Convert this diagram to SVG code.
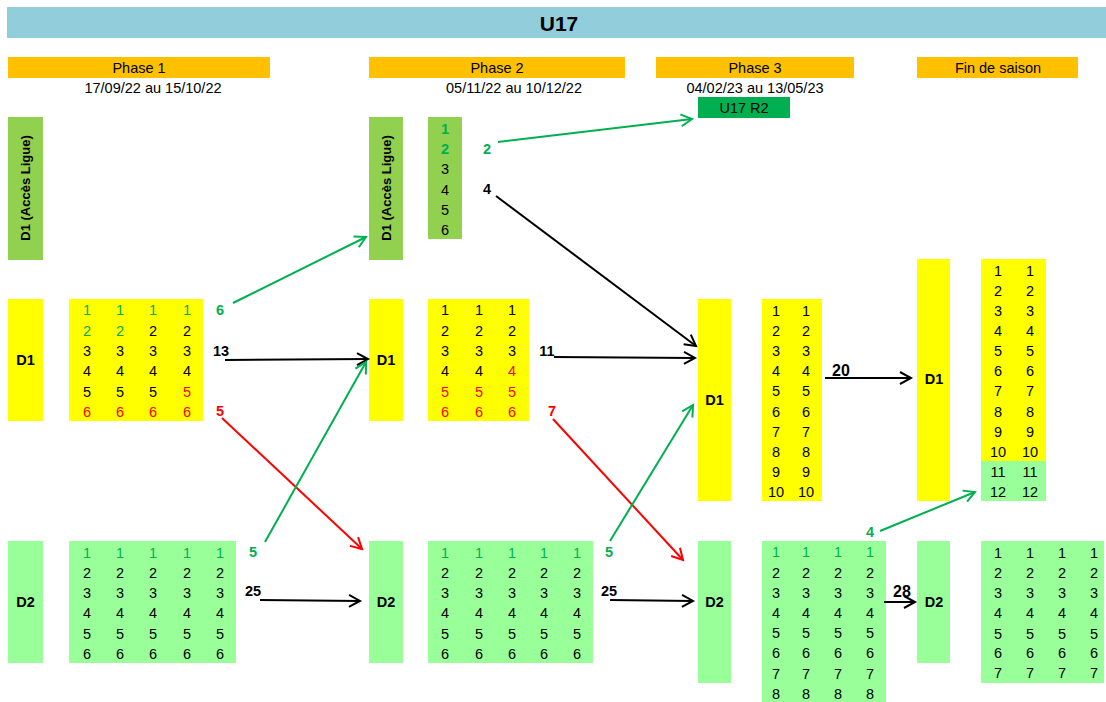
<svg xmlns="http://www.w3.org/2000/svg" width="1106" height="702" viewBox="0 0 1106 702">
<style>
text{font-family:"Liberation Sans",Arial,sans-serif;font-size:14.5px;text-anchor:middle;fill:#000}
.b{font-weight:bold}
.g{fill:#00B050}
.r{fill:#FF0000}
.yel{fill:#FFFF00}
.lg{fill:#99FF99}
.dg{fill:#92D050}
.ph{fill:#FFC000}
.ln{fill:none;stroke-width:2}
.k{stroke:#000}
.sg{stroke:#00B050}
.sr{stroke:#FF0000}
</style>
<defs>
<marker id="ak" markerUnits="userSpaceOnUse" markerWidth="16" markerHeight="16" refX="12" refY="7" orient="auto" viewBox="0 0 16 14"><path d="M1,1 L12,7 L1,13" fill="none" stroke="#000" stroke-width="2"/></marker>
<marker id="ag" markerUnits="userSpaceOnUse" markerWidth="16" markerHeight="16" refX="12" refY="7" orient="auto" viewBox="0 0 16 14"><path d="M1,1 L12,7 L1,13" fill="none" stroke="#00B050" stroke-width="2"/></marker>
<marker id="ar" markerUnits="userSpaceOnUse" markerWidth="16" markerHeight="16" refX="12" refY="7" orient="auto" viewBox="0 0 16 14"><path d="M1,1 L12,7 L1,13" fill="none" stroke="#FF0000" stroke-width="2"/></marker>
</defs>
<rect width="1106" height="702" fill="#fff"/>
<g id="title">
<rect x="7" y="7" width="1099" height="31" fill="#92CDDC"/>
<text x="559" y="31" class="b" style="font-size:21px">U17</text>
</g>
<g id="phases">
<rect x="8" y="57" width="262" height="21" class="ph"/>
<text x="139" y="73">Phase 1</text>
<text x="153" y="93">17/09/22 au 15/10/22</text>
<rect x="369" y="57" width="256" height="21" class="ph"/>
<text x="497" y="73">Phase 2</text>
<text x="514" y="93">05/11/22 au 10/12/22</text>
<rect x="656" y="57" width="198" height="21" class="ph"/>
<text x="755" y="73">Phase 3</text>
<text x="755" y="93">04/02/23 au 13/05/23</text>
<rect x="917" y="57" width="161" height="21" class="ph"/>
<text x="998" y="73">Fin de saison</text>
</g>
<g id="u17r2">
<rect x="698" y="97" width="92" height="21" fill="#00B050"/>
<text x="744" y="113">U17 R2</text>
</g>
<g id="p1-acces">
<rect x="8" y="117" width="35" height="143" class="dg"/>
<text transform="translate(30,188) rotate(-90)" class="b" style="font-size:13px">D1 (Accès Ligue)</text>
</g>
<g id="p1-d1">
<rect x="8" y="299" width="35" height="122" class="yel"/>
<text x="25.5" y="365" class="b">D1</text>
<rect x="69" y="299" width="134" height="122" class="yel"/>
<text x="87" y="315" class="g">1</text><text x="120" y="315" class="g">1</text><text x="153" y="315" class="g">1</text><text x="187" y="315" class="g">1</text>
<text x="87" y="336" class="g">2</text><text x="120" y="336" class="g">2</text><text x="153" y="336">2</text><text x="187" y="336">2</text>
<text x="87" y="356">3</text><text x="120" y="356">3</text><text x="153" y="356">3</text><text x="187" y="356">3</text>
<text x="87" y="376">4</text><text x="120" y="376">4</text><text x="153" y="376">4</text><text x="187" y="376">4</text>
<text x="87" y="397">5</text><text x="120" y="397">5</text><text x="153" y="397">5</text><text x="187" y="397" class="r">5</text>
<text x="87" y="417" class="r">6</text><text x="120" y="417" class="r">6</text><text x="153" y="417" class="r">6</text><text x="187" y="417" class="r">6</text>
</g>
<g id="p1-d2">
<rect x="8" y="541" width="35" height="122" class="lg"/>
<text x="25.5" y="607" class="b">D2</text>
<rect x="69" y="541" width="167" height="122" class="lg"/>
<text x="87" y="558" class="g">1</text><text x="120" y="558" class="g">1</text><text x="153" y="558" class="g">1</text><text x="187" y="558" class="g">1</text><text x="220" y="558" class="g">1</text>
<text x="87" y="578">2</text><text x="120" y="578">2</text><text x="153" y="578">2</text><text x="187" y="578">2</text><text x="220" y="578">2</text>
<text x="87" y="598">3</text><text x="120" y="598">3</text><text x="153" y="598">3</text><text x="187" y="598">3</text><text x="220" y="598">3</text>
<text x="87" y="618">4</text><text x="120" y="618">4</text><text x="153" y="618">4</text><text x="187" y="618">4</text><text x="220" y="618">4</text>
<text x="87" y="639">5</text><text x="120" y="639">5</text><text x="153" y="639">5</text><text x="187" y="639">5</text><text x="220" y="639">5</text>
<text x="87" y="659">6</text><text x="120" y="659">6</text><text x="153" y="659">6</text><text x="187" y="659">6</text><text x="220" y="659">6</text>
</g>
<g id="p2-acces">
<rect x="369" y="117" width="34" height="143" class="dg"/>
<text transform="translate(391,188) rotate(-90)" class="b" style="font-size:13px">D1 (Accès Ligue)</text>
<rect x="428" y="117" width="34" height="122" class="dg"/>
<text x="445" y="134" class="g b">1</text>
<text x="445" y="154" class="g b">2</text>
<text x="445" y="174">3</text>
<text x="445" y="195">4</text>
<text x="445" y="215">5</text>
<text x="445" y="235">6</text>
</g>
<g id="p2-d1">
<rect x="369" y="299" width="34" height="122" class="yel"/>
<text x="386" y="365" class="b">D1</text>
<rect x="428" y="299" width="101" height="122" class="yel"/>
<text x="445" y="315">1</text><text x="479" y="315">1</text><text x="512" y="315">1</text>
<text x="445" y="336">2</text><text x="479" y="336">2</text><text x="512" y="336">2</text>
<text x="445" y="356">3</text><text x="479" y="356">3</text><text x="512" y="356">3</text>
<text x="445" y="376">4</text><text x="479" y="376">4</text><text x="512" y="376" class="r">4</text>
<text x="445" y="397" class="r">5</text><text x="479" y="397" class="r">5</text><text x="512" y="397" class="r">5</text>
<text x="445" y="417" class="r">6</text><text x="479" y="417" class="r">6</text><text x="512" y="417" class="r">6</text>
</g>
<g id="p2-d2">
<rect x="369" y="541" width="34" height="122" class="lg"/>
<text x="386" y="607" class="b">D2</text>
<rect x="428" y="541" width="165" height="122" class="lg"/>
<text x="445" y="558" class="g">1</text><text x="479" y="558" class="g">1</text><text x="512" y="558" class="g">1</text><text x="544" y="558" class="g">1</text><text x="577" y="558" class="g">1</text>
<text x="445" y="578">2</text><text x="479" y="578">2</text><text x="512" y="578">2</text><text x="544" y="578">2</text><text x="577" y="578">2</text>
<text x="445" y="598">3</text><text x="479" y="598">3</text><text x="512" y="598">3</text><text x="544" y="598">3</text><text x="577" y="598">3</text>
<text x="445" y="618">4</text><text x="479" y="618">4</text><text x="512" y="618">4</text><text x="544" y="618">4</text><text x="577" y="618">4</text>
<text x="445" y="639">5</text><text x="479" y="639">5</text><text x="512" y="639">5</text><text x="544" y="639">5</text><text x="577" y="639">5</text>
<text x="445" y="659">6</text><text x="479" y="659">6</text><text x="512" y="659">6</text><text x="544" y="659">6</text><text x="577" y="659">6</text>
</g>
<g id="p3-d1">
<rect x="698" y="299" width="33" height="202" class="yel"/>
<text x="714.5" y="405" class="b">D1</text>
<rect x="762" y="299" width="60" height="202" class="yel"/>
<text x="776" y="316">1</text><text x="806" y="316">1</text>
<text x="776" y="336">2</text><text x="806" y="336">2</text>
<text x="776" y="356">3</text><text x="806" y="356">3</text>
<text x="776" y="376">4</text><text x="806" y="376">4</text>
<text x="776" y="396">5</text><text x="806" y="396">5</text>
<text x="776" y="417">6</text><text x="806" y="417">6</text>
<text x="776" y="437">7</text><text x="806" y="437">7</text>
<text x="776" y="457">8</text><text x="806" y="457">8</text>
<text x="776" y="477">9</text><text x="806" y="477">9</text>
<text x="776" y="497">10</text><text x="806" y="497">10</text>
</g>
<g id="p3-d2">
<rect x="698" y="541" width="33" height="142" class="lg"/>
<text x="714.5" y="607" class="b">D2</text>
<rect x="762" y="541" width="124" height="161" class="lg"/>
<text x="776" y="557" class="g">1</text><text x="806" y="557" class="g">1</text><text x="838" y="557" class="g">1</text><text x="870" y="557" class="g">1</text>
<text x="776" y="578">2</text><text x="806" y="578">2</text><text x="838" y="578">2</text><text x="870" y="578">2</text>
<text x="776" y="598">3</text><text x="806" y="598">3</text><text x="838" y="598">3</text><text x="870" y="598">3</text>
<text x="776" y="618">4</text><text x="806" y="618">4</text><text x="838" y="618">4</text><text x="870" y="618">4</text>
<text x="776" y="638">5</text><text x="806" y="638">5</text><text x="838" y="638">5</text><text x="870" y="638">5</text>
<text x="776" y="658">6</text><text x="806" y="658">6</text><text x="838" y="658">6</text><text x="870" y="658">6</text>
<text x="776" y="679">7</text><text x="806" y="679">7</text><text x="838" y="679">7</text><text x="870" y="679">7</text>
<text x="776" y="699">8</text><text x="806" y="699">8</text><text x="838" y="699">8</text><text x="870" y="699">8</text>
</g>
<g id="fin-d1">
<rect x="917" y="259" width="33" height="242" class="yel"/>
<text x="934" y="384" class="b">D1</text>
<rect x="981" y="259" width="65" height="202" class="yel"/>
<rect x="981" y="461" width="65" height="40" class="lg"/>
<text x="998" y="276">1</text><text x="1030" y="276">1</text>
<text x="998" y="296">2</text><text x="1030" y="296">2</text>
<text x="998" y="316">3</text><text x="1030" y="316">3</text>
<text x="998" y="336">4</text><text x="1030" y="336">4</text>
<text x="998" y="356">5</text><text x="1030" y="356">5</text>
<text x="998" y="376">6</text><text x="1030" y="376">6</text>
<text x="998" y="396">7</text><text x="1030" y="396">7</text>
<text x="998" y="417">8</text><text x="1030" y="417">8</text>
<text x="998" y="437">9</text><text x="1030" y="437">9</text>
<text x="998" y="457">10</text><text x="1030" y="457">10</text>
<text x="998" y="477">11</text><text x="1030" y="477">11</text>
<text x="998" y="497">12</text><text x="1030" y="497">12</text>
</g>
<g id="fin-d2">
<rect x="917" y="541" width="33" height="122" class="lg"/>
<text x="934" y="607" class="b">D2</text>
<rect x="981" y="541" width="123" height="142" class="lg"/>
<text x="998" y="558">1</text><text x="1030" y="558">1</text><text x="1062" y="558">1</text><text x="1094" y="558">1</text>
<text x="998" y="578">2</text><text x="1030" y="578">2</text><text x="1062" y="578">2</text><text x="1094" y="578">2</text>
<text x="998" y="598">3</text><text x="1030" y="598">3</text><text x="1062" y="598">3</text><text x="1094" y="598">3</text>
<text x="998" y="618">4</text><text x="1030" y="618">4</text><text x="1062" y="618">4</text><text x="1094" y="618">4</text>
<text x="998" y="639">5</text><text x="1030" y="639">5</text><text x="1062" y="639">5</text><text x="1094" y="639">5</text>
<text x="998" y="658">6</text><text x="1030" y="658">6</text><text x="1062" y="658">6</text><text x="1094" y="658">6</text>
<text x="998" y="678">7</text><text x="1030" y="678">7</text><text x="1062" y="678">7</text><text x="1094" y="678">7</text>
</g>
<g id="connectors">
<line x1="233" y1="303" x2="366" y2="237" class="ln sg" marker-end="url(#ag)"/>
<line x1="225" y1="360" x2="368" y2="359" class="ln k" marker-end="url(#ak)"/>
<line x1="222" y1="418" x2="362" y2="549" class="ln sr" marker-end="url(#ar)"/>
<line x1="265" y1="542" x2="366" y2="362" class="ln sg" marker-end="url(#ag)"/>
<line x1="260" y1="600" x2="360" y2="601" class="ln k" marker-end="url(#ak)"/>
<line x1="498" y1="142" x2="692" y2="119" class="ln sg" marker-end="url(#ag)"/>
<line x1="496" y1="196" x2="696" y2="346" class="ln k" marker-end="url(#ak)"/>
<line x1="554" y1="357" x2="695" y2="358" class="ln k" marker-end="url(#ak)"/>
<line x1="553" y1="419" x2="683" y2="560" class="ln sr" marker-end="url(#ar)"/>
<line x1="610" y1="541" x2="693" y2="405" class="ln sg" marker-end="url(#ag)"/>
<line x1="610" y1="600" x2="693" y2="601" class="ln k" marker-end="url(#ak)"/>
<line x1="825" y1="378" x2="911" y2="378" class="ln k" marker-end="url(#ak)"/>
<line x1="880" y1="531" x2="975" y2="492" class="ln sg" marker-end="url(#ag)"/>
<line x1="884" y1="602" x2="915" y2="602" class="ln k" marker-end="url(#ak)"/>
</g>
<g id="flow-labels">
<text x="220" y="315" class="b g">6</text>
<text x="221" y="356" class="b">13</text>
<text x="220" y="416" class="b r">5</text>
<text x="487" y="154" class="b g">2</text>
<text x="487" y="194" class="b">4</text>
<text x="547" y="356" class="b">11</text>
<text x="552" y="416" class="b r">7</text>
<text x="841" y="376" class="b" style="font-size:16px">20</text>
<text x="253" y="557" class="b g">5</text>
<text x="253" y="596" class="b">25</text>
<text x="609" y="557" class="b g">5</text>
<text x="609" y="596" class="b">25</text>
<text x="870" y="537" class="b g">4</text>
<text x="902" y="597" class="b" style="font-size:16px">28</text>
</g>
</svg>
